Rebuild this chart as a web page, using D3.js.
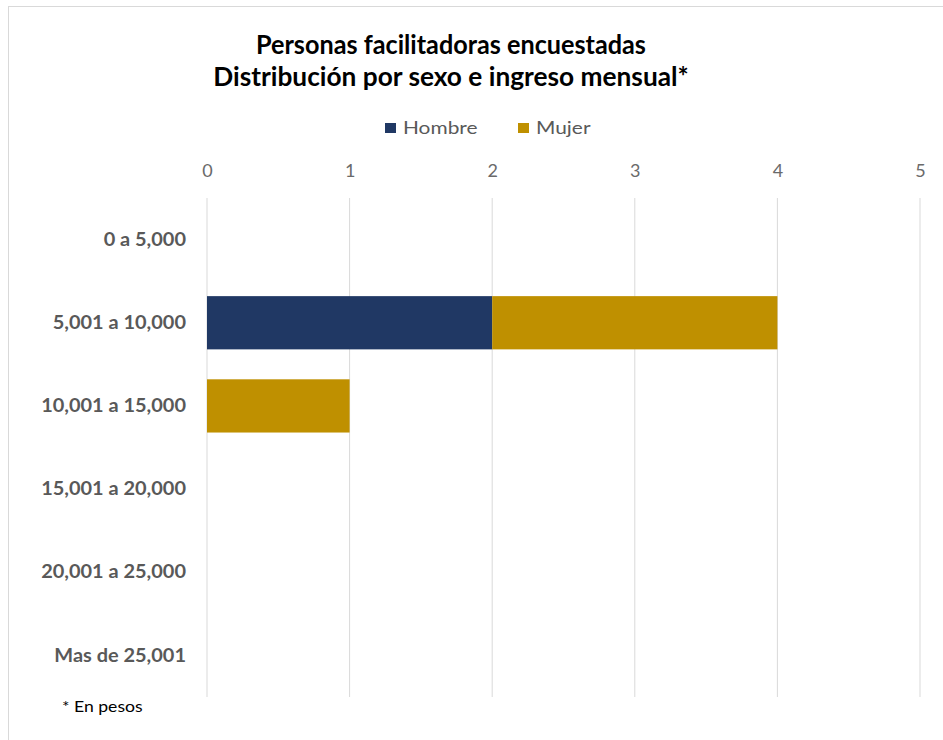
<!DOCTYPE html>
<html>
<head>
<meta charset="utf-8">
<script src="https://cdn.jsdelivr.net/npm/d3@7"></script>
<style>
  body { margin: 0; background: #fff; }
  text { font-family: Lato, "Open Sans", sans-serif; }
</style>
</head>
<body>
<script>
const categories = ["0 a 5,000", "5,001 a 10,000", "10,001 a 15,000", "15,001 a 20,000", "20,001 a 25,000", "Mas de 25,001"];
const hombre = [0, 2, 0, 0, 0, 0];
const mujer = [0, 2, 1, 0, 0, 0];
const seriesNames = ["Hombre", "Mujer"];
const colors = ["#203864", "#bf9000"];
const xTicks = [0, 1, 2, 3, 4, 5];
const titleLines = ["Personas facilitadoras encuestadas", "Distribución por sexo e ingreso mensual*"];

const width = 943, height = 740;
const margin = { top: 198, right: 23, bottom: 43, left: 207 };

// the source picture is a bit wider than its fonts, so widen text a little
let stretch = (sel, k) => {
  sel.each(function(d, i) {
    const f = Array.isArray(k) ? k[i] : k;
    const w = this.getComputedTextLength();
    d3.select(this).attr("textLength", w * f).attr("lengthAdjust", "spacingAndGlyphs");
  });
};

const svg = d3.select("body").append("svg")
  .attr("width", width)
  .attr("height", height);

// chart frame
svg.append("rect")
  .attr("x", 8.5).attr("y", 6.5)
  .attr("width", 960).attr("height", 760)
  .attr("fill", "#fff")
  .attr("stroke", "#d9d9d9");

// title
const titles = svg.append("g")
  .selectAll("text")
  .data(titleLines)
  .enter().append("text")
  .attr("x", 451).attr("y", (d, i) => 54 + i * 32)
  .attr("text-anchor", "middle")
  .attr("font-size", 26).attr("font-weight", "bold").attr("fill", "#000")
  .text(d => d);
stretch(titles, [0.97, 1.01]);

const x = d3.scaleLinear()
  .domain([0, 5])
  .range([margin.left, width - margin.right]);

const y = d3.scaleBand()
  .domain(categories)
  .range([margin.top, height - margin.bottom])
  .paddingInner(0.36)
  .paddingOuter(0.18);

// gridlines
svg.append("g")
  .selectAll("line")
  .data(xTicks)
  .enter().append("line")
  .attr("x1", d => x(d)).attr("x2", d => x(d))
  .attr("y1", margin.top).attr("y2", height - margin.bottom)
  .attr("stroke", "#d9d9d9").attr("stroke-width", 1);

// top axis labels
const xAxis = svg.append("g")
  .attr("transform", "translate(0," + (margin.top - 21) + ")")
  .call(d3.axisTop(x).tickValues(xTicks).tickFormat(d3.format("d")).tickSize(0).tickPadding(0));
xAxis.select(".domain").remove();
xAxis.selectAll("text")
  .attr("font-size", 18).attr("fill", "#6a6a6a")
  .style("font-family", "Lato, 'Open Sans', sans-serif")
  .style("font-weight", 400);

// category labels
const yAxis = svg.append("g")
  .attr("transform", "translate(" + (margin.left - 21) + ",0)")
  .call(d3.axisLeft(y).tickSize(0).tickPadding(0));
yAxis.select(".domain").remove();
const catText = yAxis.selectAll("text")
  .attr("font-size", 19).attr("font-weight", "bold").attr("fill", "#595959")
  .style("font-family", "Lato, 'Open Sans', sans-serif");
stretch(catText, 1.05);

// stacked bars
const rows = categories.map((c, i) => ({ cat: c, Hombre: hombre[i], Mujer: mujer[i] }));
const stacked = d3.stack().keys(seriesNames)(rows);

svg.append("g")
  .selectAll("g")
  .data(stacked)
  .enter().append("g")
  .attr("fill", (d, i) => colors[i])
  .selectAll("rect")
  .data(d => d.filter(p => p[1] - p[0] > 0))
  .enter().append("rect")
  .attr("x", d => x(d[0]))
  .attr("y", d => y(d.data.cat))
  .attr("width", d => x(d[1]) - x(d[0]))
  .attr("height", y.bandwidth());

// legend
const legend = svg.append("g").attr("transform", "translate(385,128)");
const legendX = [0, 133];
seriesNames.forEach((name, i) => {
  const g = legend.append("g").attr("transform", "translate(" + legendX[i] + ",0)");
  g.append("rect")
    .attr("x", 0).attr("y", -5)
    .attr("width", 11).attr("height", 10)
    .attr("fill", colors[i]);
  const t = g.append("text")
    .attr("x", 18).attr("y", 6)
    .attr("font-size", 18).attr("fill", "#595959")
    .text(name);
  stretch(t, 1.16);
});

// footnote
const note = svg.append("text")
  .attr("x", 62).attr("y", 712)
  .attr("font-size", 16).attr("fill", "#000")
  .text("* En pesos");
stretch(note, 1.1);
</script>
</body>
</html>
